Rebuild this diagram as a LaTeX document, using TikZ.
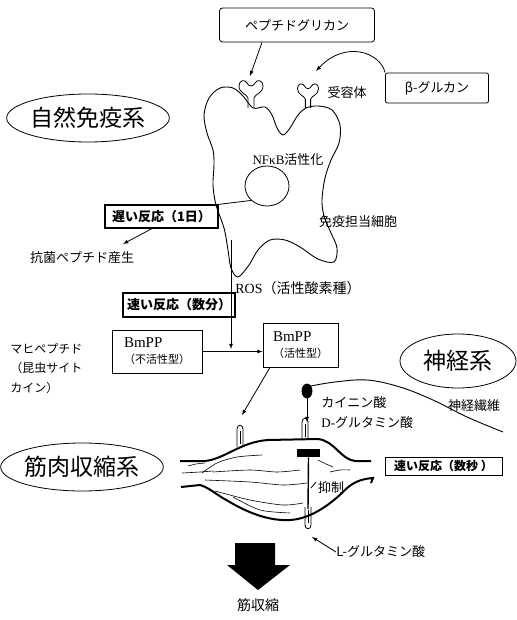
\documentclass[tikz,border=0pt]{standalone}
\usepackage{fontspec}
\setmainfont{Noto Sans CJK JP}
\newfontfamily\lat{Liberation Serif}
\usetikzlibrary{positioning, arrows, shapes.geometric}

\begin{document}
\begin{tikzpicture}[x=1pt, y=-1pt, node distance=2pt, line width=0.8pt]

	\tikzstyle{txt}=[inner sep=0pt, font=\fontsize{13}{15}\selectfont]
	\tikzstyle{system}=[draw, ellipse, inner sep=0pt, font=\fontsize{23}{26}\selectfont]
	\tikzstyle{ligand}=[draw, rounded corners=3pt, font=\fontsize{13}{15}\selectfont]
	\tikzstyle{speed}=[draw, line width=1.2pt, inner sep=0pt, font=\fontsize{13}{15}\selectfont\bfseries]
	\tikzstyle{pp}=[draw, align=left, inner sep=0pt, font=\fontsize{11}{13}\selectfont]
	\tikzstyle{fiber}=[line width=0.6pt]
	\tikzstyle{hull}=[line width=2pt]

	\tikzstyle{arr}=[-latex]

	\tikzset{
		receptor/.pic={
			\draw (-3,0) -- (-3,-10) .. controls (-4,-14) and (-12,-15) .. (-12,-22)
				.. controls (-12,-28) and (-6,-29) .. (-4,-25)
				.. controls (-2,-21) and (2,-21) .. (4,-25)
				.. controls (6,-29) and (12,-28) .. (12,-22)
				.. controls (12,-15) and (4,-14) .. (3,-10) -- (3,0);
		},
		peg/.pic={
			\draw (-3,0) -- (-3,-18) .. controls (-3,-23) and (3,-23) .. (3,-18) -- (3,0);
			\draw (0,-3) -- (0,-16);
		}
	}

	\useasboundingbox (0,0) rectangle (516,620);

	% immune cell
	\draw[line width=0.9pt] plot[smooth cycle, tension=0.55] coordinates {
		(253,108) (265,107) (272,115) (277,128) (283,135) (290,128) (298,115)
		(306,108) (318,106) (332,110) (340,125) (339,143) (331,160) (325,178)
		(322,200) (324,216) (331,233) (337,248) (334,262) (318,259) (300,247)
		(285,240) (270,240) (258,250) (249,265) (238,277) (231,268) (228,250)
		(224,228) (216,205) (213,185) (214,165) (213,150) (207,133) (204,115)
		(209,98) (220,88) (233,88) (243,96)};
	\pic at (251,108) {receptor};
	\pic[scale=0.88] at (308,108) {receptor};
	\node[draw, ellipse, minimum width=44, minimum height=40] (nucleus) at (267,186) {};

	\node[ligand, minimum width=155, minimum height=34] (pgn) at (297,25) {ペプチドグリカン};
	\node[ligand, rounded corners=2pt, minimum width=103, minimum height=30] (glucan) at (437,88) {β-グルカン};
	\coordinate (rcpL) at (250,76);
	\coordinate (rcpR) at (316,71);
	\draw[arr] (262,0 |- pgn.south) -- (rcpL);
	\draw[arr] (glucan.north west) .. controls (380,52) and (345,40) .. (rcpR);
	\node[txt] (rcplbl) at (347,93) {受容体};

	\node[system, minimum width=144, minimum height=48] (innate) at (88,118) {自然免疫系};
	\node[txt] (nfkb) at (288,160) {{\lat NFκB}活性化};
	\node[txt] (cell) at (358,222) {免疫担当細胞};

	% slow path
	\node[speed, minimum width=113, minimum height=23] (slow) at (161.5,216.5) {遅い反応（1日）};
	\draw (nucleus.south west) -- (slow.north east);
	\node[txt] (amp) at (82,258) {抗菌ペプチド産生};
	\coordinate (amptip) at (123,244);
	\draw[arr] (152,0 |- slow.south) -- (amptip);

	% fast path
	\node[txt, font=\fontsize{14}{16}\selectfont] (ros) at (298,288) {{\lat ROS}（活性酸素種）};
	\node[speed, minimum width=112, minimum height=24] (fastmin) at (179,305) {速い反応（数分）};
	\node[pp, minimum width=90, minimum height=43] (inact) at (157,351.5)
		{{\lat\fontsize{15}{17}\selectfont BmPP}\\[3pt]（不活性型）};
	\node[pp, minimum width=75, minimum height=44] (act) at (300.5,345)
		{{\lat\fontsize{15}{17}\selectfont BmPP}\\[3pt]（活性型）};
	\node[txt, font=\fontsize{12}{19.5}\selectfont, align=left, anchor=north west] (mahi) at (10,343)
		{マヒペプチド\\（昆虫サイト\\カイン）};
	\coordinate (rosTop) at (231,240);
	\coordinate (junc) at (231,349);
	\draw[arr] (rosTop) -- (junc);
	\draw[arr] (inact.east) -- (inact.east -| act.west);

	% nerve
	\node[system, minimum width=116, minimum height=54] (nerve) at (458,361) {神経系};
	\node[draw, fill, ellipse, minimum width=10, minimum height=14, inner sep=0pt] (dot) at (307,391) {};
	\draw[line width=0.9pt] plot[smooth, tension=0.6] coordinates {
		(311,386) (335,382) (367,380) (400,387) (433,400) (467,417) (503,432)};
	\node[txt] (fiberlbl) at (474,406) {神経繊維};
	\node[txt, align=left, anchor=west] (kainate) at (321,403) {カイニン酸};
	\node[txt, anchor=west] (dglu) at (321,423) {{\lat D-}グルタミン酸};

	% muscle
	\node[system, minimum width=146, minimum height=48] (muscle) at (82,467) {筋肉収縮系};
	\draw[hull] (180,461) -- (205,461) .. controls (225,459) and (240,442) .. (268,440)
		-- (318,439) .. controls (335,441) and (340,459) .. (355,461) -- (371,461);
	\draw[hull] (181,487) -- (200,485) .. controls (210,488) and (215,494) .. (228,501)
		.. controls (250,514) and (270,521) .. (290,520) .. controls (310,519) and (330,505) .. (345,490)
		.. controls (352,483) and (360,479) .. (373,478) -- (371,483);
	\draw[fiber] plot[smooth] coordinates {(182,473) (200,472) (213,471)};
	\draw[fiber] plot[smooth] coordinates {(202,473) (217,463) (237,457) (262,455)};
	\draw[fiber] plot[smooth] coordinates {(213,472) (250,470) (277,472) (300,470)};
	\draw[fiber] plot[smooth] coordinates {(205,480) (250,482) (283,485) (307,483)};
	\draw[fiber] plot[smooth] coordinates {(215,491) (250,500) (283,505) (303,503)};
	\draw[fiber] plot[smooth] coordinates {(233,497) (260,510) (290,513)};
	\draw[fiber] plot[smooth] coordinates {(318,460) (326,464) (333,467)};
	\draw[fiber] plot[smooth] coordinates {(330,472) (340,470) (350,470)};
	\draw[fiber] plot[smooth] coordinates {(188,466) (196,464) (205,463)};
	\pic at (240,447) {peg};
	\pic at (305,440) {peg};
	\pic[yscale=-1] at (308,507) {peg};
	\coordinate (pegL) at (242,415);
	\coordinate (pegR) at (307,422);
	\draw[arr] (270,0 |- act.south) -- (pegL);
	\draw[arr] (dot) -- (pegR);

	% inhibition
	\node[fill, minimum width=23, minimum height=8, inner sep=0pt] (block) at (308.5,453) {};
	\draw[line width=1.4pt] (block.south) -- (308,509);
	\draw (311,488) -- (316,482);
	\node[txt] (inhib) at (331,488) {抑制};
	\node[speed, line width=0.8pt, font=\fontsize{12}{14}\selectfont\bfseries, minimum width=117, minimum height=18] (fastsec) at (443.5,466) {速い反応（数秒 ）};

	\node[txt, anchor=west] (lglu) at (336,552) {L-グルタミン酸};
	\coordinate (lglutip) at (312,537);
	\draw[arr] (lglu.west) -- (lglutip);

	% contraction
	\fill (235,543) -- (275,543) -- (275,565) -- (290,565) -- (258,590) -- (227,565) -- (235,565) -- cycle;
	\node[txt, font=\fontsize{14}{16}\selectfont] (contract) at (258,605) {筋収縮};

\end{tikzpicture}
\end{document}
